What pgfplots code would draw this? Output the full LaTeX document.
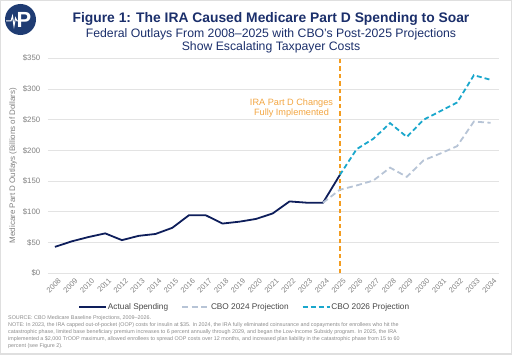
\documentclass[border=0pt]{standalone}
\usepackage{pgfplots}
\pgfplotsset{compat=1.18}
\usepackage{fontspec}
\setmainfont{Liberation Sans}
\definecolor{navy}{HTML}{0E1E5B}
\definecolor{titlenavy}{HTML}{1B2F6B}
\definecolor{logonavy}{HTML}{1F3C73}
\definecolor{projgrey}{HTML}{B7C4D6}
\definecolor{teal}{HTML}{1AA7CC}
\definecolor{orangeline}{HTML}{F39C1F}
\definecolor{orangetext}{HTML}{F2A541}
\definecolor{txtgrey}{HTML}{7F7F7F}
\definecolor{notegrey}{HTML}{8A8A8A}
\begin{document}
\begin{tikzpicture}[x=1bp,y=1bp]
\useasboundingbox (0,0) rectangle (512,354);
\draw[gray!25, line width=2bp] (0,0) rectangle (512,354);
% logo
\fill[logonavy] (20.5,334.5) circle (15.5);
\node[white, font=\bfseries\fontsize{22}{22}\selectfont, inner sep=0] at (24,334) {P};
\draw[white, line width=1bp] (6,333) -- (11,333) -- (12.5,338) -- (14,328) -- (15.5,336) -- (17,333) -- (20,333);
% titles
\node[titlenavy, font=\bfseries\fontsize{13.9}{16}\selectfont, anchor=base] at (271,332) {Figure 1: The IRA Caused Medicare Part D Spending to Soar};
\node[titlenavy, font=\fontsize{12.3}{13.5}\selectfont, anchor=base] at (271,317) {Federal Outlays From 2008--2025 with CBO's Post-2025 Projections};
\node[titlenavy, font=\fontsize{12.3}{13.5}\selectfont, anchor=base] at (271,303.5) {Show Escalating Taxpayer Costs};
% y label
\node[txtgrey, font=\fontsize{8}{9}\selectfont, rotate=90] at (13,188.5) {Medicare Part D Outlays (Billions of Dollars)};
\begin{axis}[
  at={(47.7bp,80.7bp)}, anchor=south west, scale only axis,
  width=451.3bp, height=215bp,
  xmin=2007.57, xmax=2034.5, ymin=0, ymax=350,
  xtick={2008,2009,...,2034}, ytick={0,50,...,350},
  ymajorgrids, grid style={gray!22, line width=0.8bp},
  axis line style={draw=none}, major tick length=0pt,
  /pgf/number format/.cd, 1000 sep={}, assume math mode=true, /pgfplots/.cd,
  xticklabel={\pgfmathprintnumber{\tick}},
  yticklabel={\$\pgfmathprintnumber{\tick}},
  xticklabel style={rotate=45, anchor=north east, font=\fontsize{7.5}{8}\selectfont, text=txtgrey, inner sep=1bp, yshift=-4bp},
  yticklabel style={font=\fontsize{7.8}{8}\selectfont, text=txtgrey, xshift=-4bp},
  legend columns=3,
  legend style={at={(rel axis cs:0.0671,-0.1567)}, anchor=west, draw=none, fill=none, inner sep=0pt,
    font=\fontsize{8.3}{9}\selectfont, text=txtgrey!55!black,
    /tikz/every even column/.append style={column sep=12bp},
    nodes={inner sep=1bp}},
  legend image code/.code={\draw[#1] (0bp,0bp) -- (27bp,0bp);},
  legend cell align=left,
]
\addplot[forget plot, orangeline, line width=1.4bp, dash pattern=on 4.5bp off 3bp] coordinates {(2025,0) (2025,350)};
\addplot[navy, line width=1.8bp] coordinates {
(2008,43) (2009,52) (2010,59) (2011,65) (2012,54) (2013,61) (2014,64) (2015,74)
(2016,94.5) (2017,94.5) (2018,81) (2019,84) (2020,88.5) (2021,97.5) (2022,117)
(2023,115) (2024,115) (2025,160)};
\addlegendentry{Actual Spending}
\addplot[projgrey, line width=1.8bp, dash pattern=on 6bp off 3.5bp] coordinates {
(2024,115) (2025,136) (2026,143) (2027,151) (2028,172) (2029,157) (2030,184)
(2031,195) (2032,207) (2033,247) (2034,245)};
\addlegendentry{CBO 2024 Projection}
\addplot[teal, line width=1.8bp, dash pattern=on 5bp off 3bp] coordinates {
(2025,160) (2026,202) (2027,219) (2028,244.5) (2029,222) (2030,250) (2031,264)
(2032,278) (2033,322.5) (2034,315)};
\addlegendentry{CBO 2026 Projection}
\end{axis}
% annotation
\node[orangetext, font=\fontsize{9.2}{11}\selectfont, align=center, anchor=base] at (291.5,249) {IRA Part D Changes};
\node[orangetext, font=\fontsize{9.2}{11}\selectfont, align=center, anchor=base] at (291.5,238.3) {Fully Implemented};
% notes
\node[notegrey, font=\fontsize{5.4}{7.2}\selectfont, anchor=north west, align=left, inner sep=0] at (8,39) {%
SOURCE: CBO Medicare Baseline Projections, 2009--2026.\\
NOTE: In 2023, the IRA capped out-of-pocket (OOP) costs for insulin at \$35. In 2024, the IRA fully eliminated coinsurance and copayments for enrollees who hit the\\
catastrophic phase, limited base beneficiary premium increases to 6 percent annually through 2029, and began the Low-Income Subsidy program. In 2025, the IRA\\
implemented a \$2,000 TrOOP maximum, allowed enrollees to spread OOP costs over 12 months, and increased plan liability in the catastrophic phase from 15 to 60\\
percent (see Figure 2).};
\end{tikzpicture}
\end{document}
